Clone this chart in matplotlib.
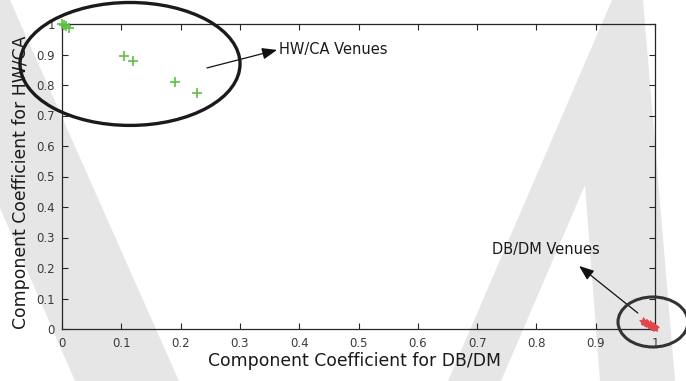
import matplotlib
matplotlib.use("Agg")
import matplotlib.pyplot as plt
from matplotlib.patches import Ellipse, Polygon

# ---- data ----
hw_x = [0.000, 0.003, 0.006, 0.012, 0.105, 0.120, 0.190, 0.228]
hw_y = [1.000, 0.998, 0.995, 0.988, 0.895, 0.880, 0.810, 0.775]

db_x = [0.979, 0.982, 0.985, 0.987, 0.989, 0.991, 0.992, 0.994, 0.995, 0.996, 0.997, 0.998, 0.999, 1.000]
db_y = [0.026, 0.024, 0.020, 0.021, 0.017, 0.016, 0.013, 0.012, 0.010, 0.008, 0.009, 0.006, 0.005, 0.004]

xticks = [0, 0.1, 0.2, 0.3, 0.4, 0.5, 0.6, 0.7, 0.8, 0.9, 1]
xtick_labels = ["0", "0.1", "0.2", "0.3", "0.4", "0.5", "0.6", "0.7", "0.8", "0.9", "1"]
yticks = [0, 0.1, 0.2, 0.3, 0.4, 0.5, 0.6, 0.7, 0.8, 0.9, 1]
ytick_labels = ["0", "0.1", "0.2", "0.3", "0.4", "0.5", "0.6", "0.7", "0.8", "0.9", "1"]

W, H = 686, 381
fig = plt.figure(figsize=(W / 100, H / 100), dpi=100)
fig.patch.set_facecolor("white")

# background watermark shapes (pixel coords, y downward)
def fpoly(pts, **kw):
    p = Polygon([(x / W, 1 - y / H) for x, y in pts], closed=True,
                transform=fig.transFigure, zorder=-10, **kw)
    fig.patches.append(p)

gray = "#e6e6e6"
fpoly([(-90, 0), (10, 0), (179, 381), (75, 381)], facecolor=gray, edgecolor="none")
fpoly([(448, 381), (612, 0), (643, 0), (675, 381), (600, 381), (585, 185), (501, 381)],
      facecolor=gray, edgecolor="none")

ax_l, ax_r, ax_t, ax_b = 62, 655, 24, 329
ax = fig.add_axes([ax_l / W, 1 - ax_b / H, (ax_r - ax_l) / W, (ax_b - ax_t) / H])
ax.set_facecolor("none")
ax.set_xlim(0, 1)
ax.set_ylim(0, 1)

ax.plot(hw_x, hw_y, linestyle="none", marker="+", markersize=7, mew=1.2,
        color="#5fbf45", clip_on=False, zorder=5)
ax.plot(db_x, db_y, linestyle="none", marker="*", markersize=6, mew=0.6,
        color="#e2464c", clip_on=False, zorder=5)

for s in ax.spines.values():
    s.set_color("#262626")
    s.set_linewidth(0.9)

ax.set_xticks(xticks)
ax.set_xticklabels(xtick_labels)
ax.set_yticks(yticks)
ax.set_yticklabels(ytick_labels)
ax.tick_params(direction="in", length=4.5, width=0.8, colors="#262626",
               top=True, right=True, labelsize=8.5, labelcolor="#3a3a3a")
ax.tick_params(axis="x", pad=6)
ax.tick_params(axis="y", pad=5)

# ellipses
e1 = Ellipse((0.1147, 0.869), 0.371, 0.403, fill=False, edgecolor="#1a1a1a",
             linewidth=2.4, clip_on=False, zorder=6)
ax.add_patch(e1)
e2 = Ellipse((0.9966, 0.023), 0.118, 0.164, fill=False, edgecolor="#333333",
             linewidth=2.2, clip_on=False, zorder=6)
ax.add_patch(e2)

# annotations
ax.annotate("", xy=(0.3626, 0.915), xytext=(0.2445, 0.856),
            arrowprops=dict(arrowstyle="-|>,head_length=0.9,head_width=0.35",
                            mutation_scale=10, color="#111111", lw=0.9,
                            shrinkA=0, shrinkB=0), annotation_clip=False)
ax.text(0.366, 0.918, "HW/CA Venues", ha="left", va="center", fontsize=10.5,
        color="#1a1a1a")
ax.annotate("", xy=(0.872, 0.2066), xytext=(0.971, 0.0525),
            arrowprops=dict(arrowstyle="-|>,head_length=0.9,head_width=0.35",
                            mutation_scale=10, color="#111111", lw=0.9,
                            shrinkA=0, shrinkB=0), annotation_clip=False)
ax.text(0.725, 0.262, "DB/DM Venues", ha="left", va="center", fontsize=10.5,
        color="#1a1a1a")

fig.text(354 / W, 1 - 361 / H, "Component Coefficient for DB/DM", ha="center",
         va="center", fontsize=12.4, color="#1a1a1a")
fig.text(21 / W, 1 - 182 / H, "Component Coefficient for HW/CA", ha="center",
         va="center", rotation=90, fontsize=12.4, color="#1a1a1a")

fig.savefig("out.png", dpi=100)
